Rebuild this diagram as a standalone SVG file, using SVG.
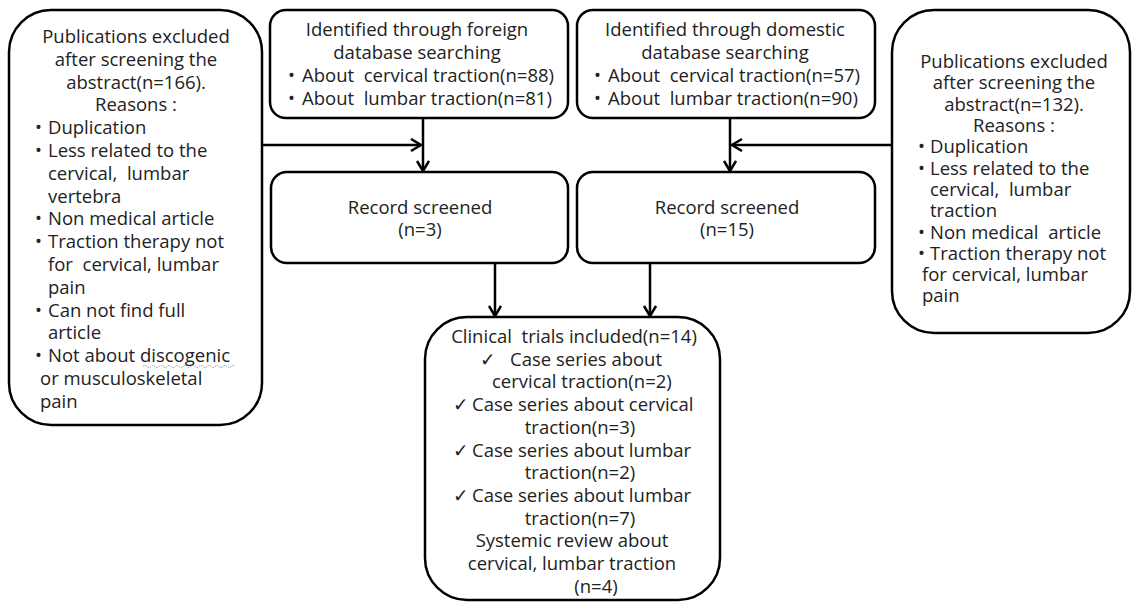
<svg xmlns="http://www.w3.org/2000/svg" width="1133" height="602" viewBox="0 0 1133 602">
<defs>
<style>
.box{fill:#fff;stroke:#000;stroke-width:2.5}
.t{font-family:"Open Sans","DejaVu Sans",sans-serif;font-size:18.5px;fill:#222}
.c{text-anchor:middle}
.ln{stroke:#000;stroke-width:2.5;fill:none}
</style>
<marker id="ah" markerUnits="userSpaceOnUse" markerWidth="14" markerHeight="16" refX="11" refY="7" orient="auto">
<path d="M1,1 L11,7 L1,13" fill="none" stroke="#000" stroke-width="2.5"/>
</marker>
</defs>
<rect width="1133" height="602" fill="#fff"/>
<g id="connectors">
<line class="ln" x1="262" y1="145" x2="421" y2="145" marker-end="url(#ah)"/>
<line class="ln" x1="423" y1="118" x2="423" y2="171" marker-end="url(#ah)"/>
<line class="ln" x1="892" y1="145" x2="732" y2="145" marker-end="url(#ah)"/>
<line class="ln" x1="730" y1="118" x2="730" y2="171" marker-end="url(#ah)"/>
<line class="ln" x1="495" y1="263" x2="495" y2="316" marker-end="url(#ah)"/>
<line class="ln" x1="650" y1="263" x2="650" y2="316" marker-end="url(#ah)"/>
</g>
<g id="excluded-left">
<rect class="box" x="9" y="10" width="253" height="415" rx="42" ry="42"/>
<text class="t c" x="136" y="43">Publications excluded</text>
<text class="t c" x="136" y="66">after screening the</text>
<text class="t c" x="136" y="89">abstract(n=166).</text>
<text class="t c" x="136" y="111">Reasons :</text>
<text class="t" x="35" y="134">•</text><text class="t" x="48" y="134">Duplication</text>
<text class="t" x="35" y="157">•</text><text class="t" x="48" y="157">Less related to the</text>
<text class="t" x="48" y="180" xml:space="preserve">cervical,  lumbar</text>
<text class="t" x="48" y="203">vertebra</text>
<text class="t" x="35" y="225">•</text><text class="t" x="48" y="225">Non medical article</text>
<text class="t" x="35" y="248">•</text><text class="t" x="48" y="248">Traction therapy not</text>
<text class="t" x="48" y="271" xml:space="preserve">for  cervical, lumbar</text>
<text class="t" x="48" y="294">pain</text>
<text class="t" x="35" y="317">•</text><text class="t" x="48" y="317">Can not find full</text>
<text class="t" x="48" y="339">article</text>
<text class="t" x="35" y="362">•</text><text class="t" x="48" y="362">Not about discogenic</text>
<path d="M143,366.5 q2,-2 4,0 t4,0 t4,0 t4,0 t4,0 t4,0 t4,0 t4,0 t4,0 t4,0 t4,0 t4,0 t4,0 t4,0 t4,0 t4,0 t4,0 t4,0 t4,0 t4,0 t4,0 t4,0 t4,0" fill="none" stroke="#999" stroke-width="1" stroke-dasharray="1.5,1"/>
<text class="t" x="40" y="385">or musculoskeletal</text>
<text class="t" x="40" y="408">pain</text>
</g>
<g id="foreign">
<rect class="box" x="270" y="10" width="298" height="108" rx="16" ry="16"/>
<text class="t c" x="417" y="36">Identified through foreign</text>
<text class="t c" x="417" y="59">database searching</text>
<text class="t" x="288" y="82">•</text><text class="t" x="302" y="82" xml:space="preserve">About  cervical traction(n=88)</text>
<text class="t" x="288" y="105">•</text><text class="t" x="302" y="105" xml:space="preserve">About  lumbar traction(n=81)</text>
</g>
<g id="domestic">
<rect class="box" x="577" y="10" width="298" height="108" rx="16" ry="16"/>
<text class="t c" x="725" y="36">Identified through domestic</text>
<text class="t c" x="725" y="59">database searching</text>
<text class="t" x="594" y="82">•</text><text class="t" x="608" y="82" xml:space="preserve">About  cervical traction(n=57)</text>
<text class="t" x="594" y="105">•</text><text class="t" x="608" y="105" xml:space="preserve">About  lumbar traction(n=90)</text>
</g>
<g id="screened-left">
<rect class="box" x="271" y="172" width="297" height="91" rx="16" ry="16"/>
<text class="t c" x="420" y="214">Record screened</text>
<text class="t c" x="420" y="236">(n=3)</text>
</g>
<g id="screened-right">
<rect class="box" x="577" y="172" width="298" height="91" rx="16" ry="16"/>
<text class="t c" x="727" y="214">Record screened</text>
<text class="t c" x="727" y="236">(n=15)</text>
</g>
<g id="excluded-right">
<rect class="box" x="892" y="10" width="238" height="323" rx="42" ry="42"/>
<text class="t c" x="1014" y="68">Publications excluded</text>
<text class="t c" x="1014" y="89">after screening the</text>
<text class="t c" x="1014" y="111">abstract(n=132).</text>
<text class="t c" x="1014" y="132">Reasons :</text>
<text class="t" x="918" y="153">•</text><text class="t" x="930" y="153">Duplication</text>
<text class="t" x="918" y="175">•</text><text class="t" x="930" y="175">Less related to the</text>
<text class="t" x="930" y="196" xml:space="preserve">cervical,  lumbar</text>
<text class="t" x="930" y="217">traction</text>
<text class="t" x="918" y="239">•</text><text class="t" x="930" y="239" xml:space="preserve">Non medical  article</text>
<text class="t" x="918" y="260">•</text><text class="t" x="930" y="260">Traction therapy not</text>
<text class="t" x="922" y="281">for cervical, lumbar</text>
<text class="t" x="922" y="302">pain</text>
</g>
<g id="included">
<rect class="box" x="425" y="317" width="295" height="283" rx="42" ry="42"/>
<text class="t c" x="574" y="343" xml:space="preserve">Clinical  trials included(n=14)</text>
<text class="t" x="480" y="366">✓</text><text class="t" x="510" y="366">Case series about</text>
<text class="t" x="492" y="388">cervical traction(n=2)</text>
<text class="t" x="453" y="411">✓</text><text class="t" x="472" y="411">Case series about cervical</text>
<text class="t c" x="580" y="434">traction(n=3)</text>
<text class="t" x="453" y="457">✓</text><text class="t" x="472" y="457">Case series about lumbar</text>
<text class="t c" x="580" y="479">traction(n=2)</text>
<text class="t" x="453" y="502">✓</text><text class="t" x="472" y="502">Case series about lumbar</text>
<text class="t c" x="580" y="525">traction(n=7)</text>
<text class="t c" x="572" y="547">Systemic review about</text>
<text class="t c" x="572" y="570">cervical, lumbar traction</text>
<text class="t c" x="596" y="593">(n=4)</text>
</g>
</svg>
